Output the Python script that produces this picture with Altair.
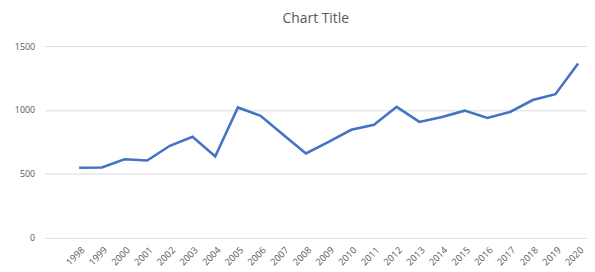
import altair as alt
import pandas as pd

years = list(range(1998, 2021))
values = [548, 550, 615, 605, 720, 790, 636, 1020, 955, 806, 660, 750, 845,
          884, 1025, 907, 945, 995, 938, 985, 1078, 1124, 1364]

df = pd.DataFrame({"year": years, "value": values})

FONT = "Open Sans"
GRAY = "#595959"

line = alt.Chart(df).mark_line(color="#4472C4", strokeWidth=2.6).encode(
    x=alt.X("year:Q",
            scale=alt.Scale(domain=[1996.475, 2020.392], nice=False, zero=False),
            axis=alt.Axis(values=years, format="d", labelAngle=-45, grid=False,
                          domain=False, ticks=False, labelFontSize=9.5,
                          labelColor=GRAY, labelFont=FONT, labelPadding=7,
                          labelAlign="right", labelBaseline="top", title=None,
                          labelOverlap=False, labelBound=False)),
    y=alt.Y("value:Q",
            scale=alt.Scale(domain=[0, 1500], nice=False),
            axis=alt.Axis(values=[0, 500, 1000, 1500], format="d", grid=True,
                          gridColor="#d9d9d9", gridWidth=1, domain=False,
                          ticks=False, labelFontSize=9, labelColor=GRAY,
                          labelFont=FONT, labelPadding=10, title=None)),
)

chart = line.properties(
    width=549, height=194,
    autosize=alt.AutoSizeParams(type="none"),
    padding={"left": 37, "top": 37, "right": 0, "bottom": 30},
    title=alt.TitleParams("Chart Title", fontSize=14, font=FONT, fontWeight="normal",
                          color=GRAY, anchor="middle", offset=16),
).configure_view(stroke=None)

chart.save("out.html", embed_options={"renderer": "svg", "actions": False})
